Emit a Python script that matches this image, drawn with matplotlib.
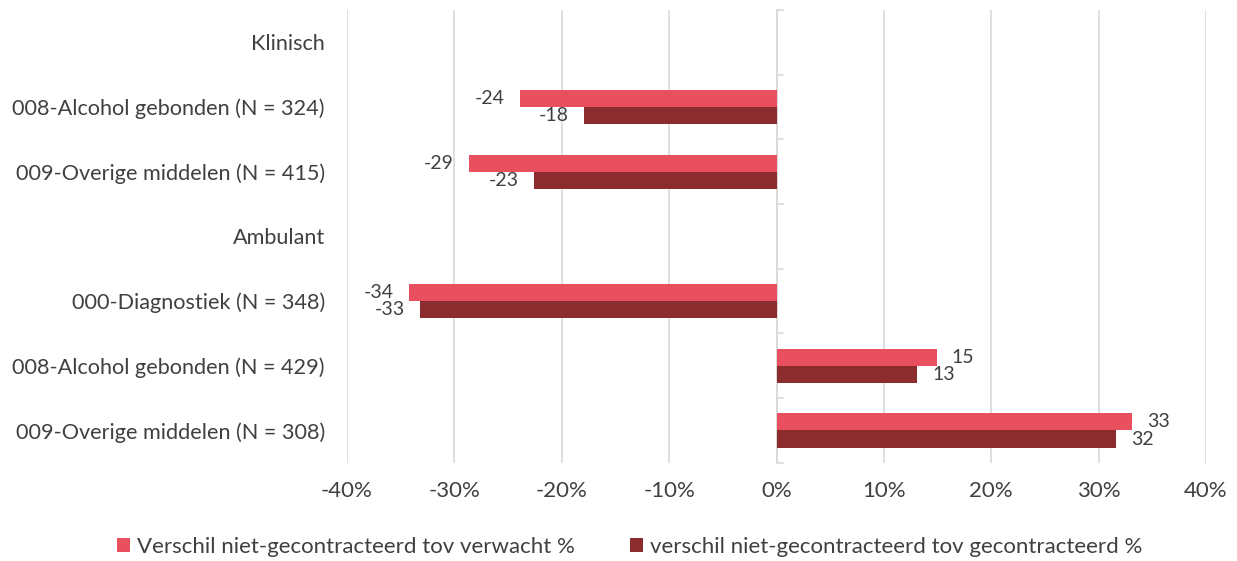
import matplotlib

matplotlib.use("Agg")
import matplotlib.pyplot as plt
import numpy as np

plt.rcParams["font.family"] = ["Lato", "DejaVu Sans"]

categories = [
    "Klinisch",
    "008-Alcohol gebonden (N = 324)",
    "009-Overige middelen (N = 415)",
    "Ambulant",
    "000-Diagnostiek (N = 348)",
    "008-Alcohol gebonden (N = 429)",
    "009-Overige middelen (N = 308)",
]
# None = header row without bars
verwacht = [None, -23.9, -28.6, None, -34.2, 14.9, 33.1]
gecontracteerd = [None, -17.9, -22.6, None, -33.2, 13.1, 31.6]
series_names = [
    "Verschil niet-gecontracteerd tov verwacht %",
    "verschil niet-gecontracteerd tov gecontracteerd %",
]
x_ticks = [-40, -30, -20, -10, 0, 10, 20, 30, 40]

PINK = "#E8505F"
DARK = "#8B2C2E"
GRID = "#D9D9D9"
TEXT = "#404040"

fig = plt.figure(figsize=(12.37, 5.61), dpi=100)
ax = fig.add_axes([0.2805, 0.175, 0.6945, 0.807])

n = len(categories)
y = np.arange(n)
h = 0.265

for vals, off, color, name in [
    (verwacht, -h / 2, PINK, series_names[0]),
    (gecontracteerd, h / 2, DARK, series_names[1]),
]:
    ys = [yy + off for yy, v in zip(y, vals) if v is not None]
    vs = [v for v in vals if v is not None]
    ax.barh(ys, vs, height=h, color=color, label=name, zorder=3)
    for yy, v in zip(ys, vs):
        ax.annotate(
            f"{round(v):d}",
            (v, yy),
            xytext=(-11 if v < 0 else 11, 0),
            textcoords="offset points",
            ha="right" if v < 0 else "left",
            va="center",
            fontsize=14,
            color=TEXT,
        )

ax.set_xlim(-40, 40)
ax.set_ylim(n - 0.5, -0.5)
ax.set_xticks(x_ticks)
ax.set_xticklabels([f"{t}%" for t in x_ticks])
ax.set_yticks(y)
ax.set_yticklabels(categories)
ax.tick_params(axis="y", length=0, pad=16, labelsize=15.6, labelcolor=TEXT)
ax.tick_params(axis="x", length=0, pad=13, labelsize=16, labelcolor=TEXT)
ax.grid(axis="x", color=GRID, linewidth=1.2, zorder=0)
for s in ax.spines.values():
    s.set_visible(False)

# category axis at zero with boundary tick marks
ax.axvline(0, color=GRID, linewidth=1.2, zorder=2)
for b in np.arange(-0.5, n, 1.0):
    ax.plot([0, 0.6], [b, b], color=GRID, linewidth=1.2, zorder=2, clip_on=False)

fig.legend(
    loc="center",
    bbox_to_anchor=(0.509, 0.025),
    ncol=2,
    frameon=False,
    fontsize=16,
    handlelength=0.6,
    handleheight=0.6,
    handletextpad=0.3,
    columnspacing=2.5,
    labelcolor=TEXT,
)

fig.savefig("out.png", dpi=100)
